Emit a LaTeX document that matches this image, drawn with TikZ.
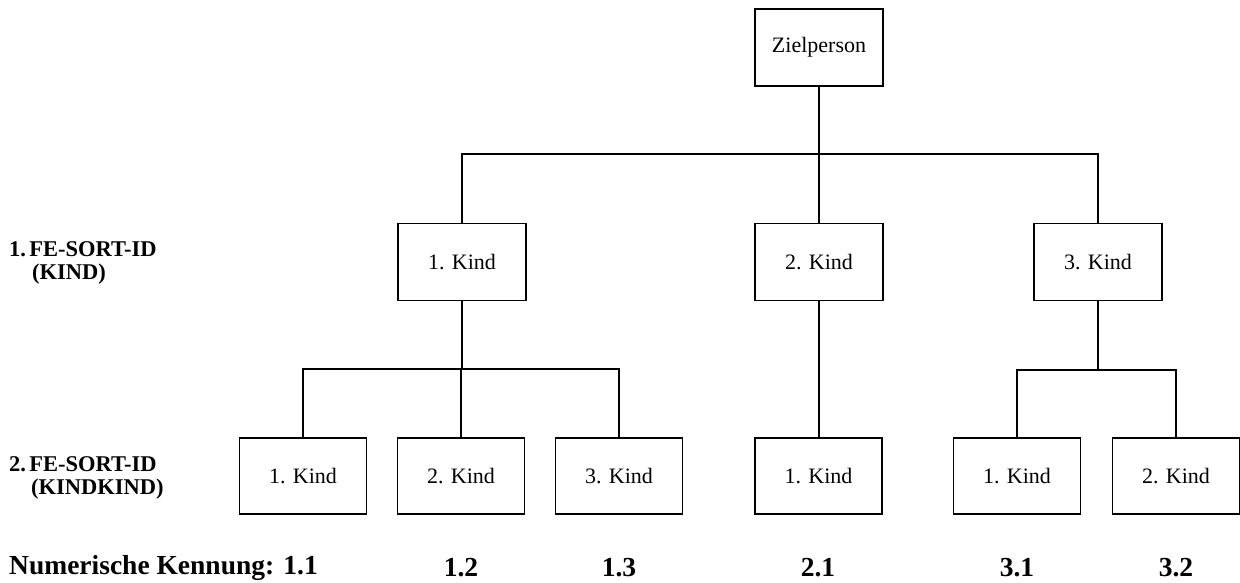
\documentclass[tikz,border=0pt]{standalone}
\usepackage{fontspec}
\setmainfont{Liberation Serif}
\begin{document}
\begin{tikzpicture}[x=1pt,y=-1pt,
  box/.style={draw,line width=1.6pt,minimum width=128pt,minimum height=77pt,inner sep=0pt,font=\fontsize{22}{24}\selectfont},
  cbox/.style={box,minimum height=76pt,minimum width=127pt},
  conn/.style={line width=1.5pt},
  lbl/.style={anchor=west,inner sep=0pt,font=\fontsize{22.5}{24}\selectfont\bfseries},
  num/.style={inner sep=0pt,font=\fontsize{27.5}{30}\selectfont\bfseries}]
\useasboundingbox (0,0) rectangle (1240,582);
% level 0
\node[box] (z) at (819,47.5) {Zielperson};
% level 1
\node[box] (k1) at (462,262) {1. Kind};
\node[box] (k2) at (819,262) {2. Kind};
\node[box] (k3) at (1098,262) {3. Kind};
% level 2
\node[cbox] (c11) at (303,476) {1. Kind};
\node[cbox] (c12) at (461,476) {2. Kind};
\node[cbox] (c13) at (619,476) {3. Kind};
\node[cbox] (c21) at (818.5,476) {1. Kind};
\node[cbox] (c31) at (1017,476) {1. Kind};
\node[cbox] (c32) at (1176,476) {2. Kind};
% buses
\coordinate (b1) at (819,154);
\coordinate (b2) at (462,369);
\coordinate (b3) at (1098,370);
\draw[conn] (z.south) -- (b1);
\draw[conn] (k1.north) |- (b1);
\draw[conn] (k3.north) |- (b1);
\draw[conn] (k2.north) -- (b1);
\draw[conn] (k1.south) -- (b2);
\draw[conn] (c11.north) |- (b2);
\draw[conn] (c13.north) |- (b2);
\draw[conn] (c12.north) |- (b2);
\draw[conn] (k2.south) -- (k2.south |- c21.north);
\draw[conn] (k3.south) -- (b3);
\draw[conn] (c31.north) |- (b3);
\draw[conn] (c32.north) |- (b3);
% labels
\node[lbl] (l1a) at (9,249) {1.\kern0.15em FE-SORT-ID};
\node[lbl] (l1b) at (32,274) {(KIND)};
\node[lbl] (l2a) at (9,464) {2.\kern0.15em FE-SORT-ID};
\node[lbl] (l2b) at (31,489) {(KINDKIND)};
\node[num,anchor=west] (n0) at (9,568) {Numerische Kennung: 1.1};
\node[num] (n12) at (461,568) {1.2};
\node[num] (n13) at (619,568) {1.3};
\node[num] (n21) at (818,568) {2.1};
\node[num] (n31) at (1017,568) {3.1};
\node[num] (n32) at (1176,568) {3.2};
\end{tikzpicture}
\end{document}
